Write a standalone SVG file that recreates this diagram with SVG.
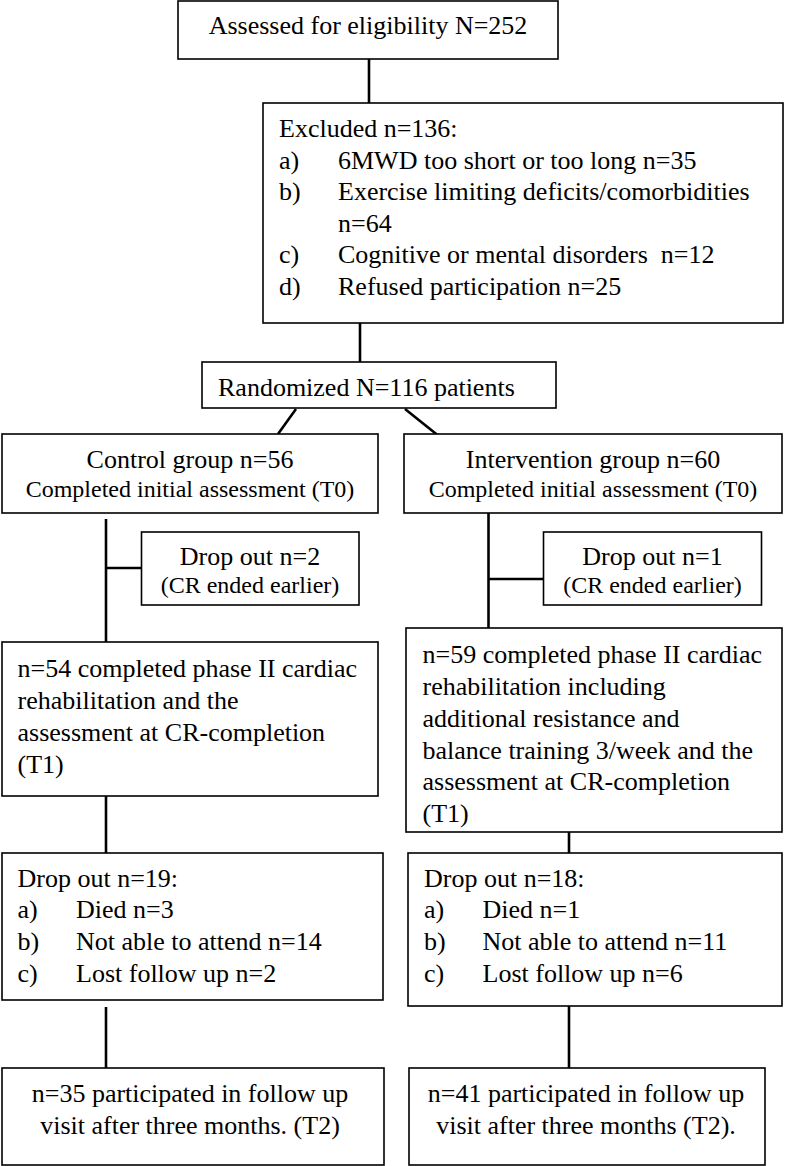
<svg xmlns="http://www.w3.org/2000/svg" width="788" height="1166" viewBox="0 0 788 1166">
<style>
.box{fill:#fff;stroke:#000;stroke-width:1.6}
.ln{stroke:#000;stroke-width:2.6;fill:none}
text{font-family:"Liberation Serif","Times New Roman",serif;font-size:26px;fill:#000}
.s{font-size:24px}
.m{text-anchor:middle}
</style>
<rect width="788" height="1166" fill="#fff"/>
<g id="connectors">
<line class="ln" x1="369" y1="59" x2="369" y2="103"/>
<line class="ln" x1="360" y1="323" x2="360" y2="362"/>
<line class="ln" x1="296" y1="409" x2="278" y2="434"/>
<line class="ln" x1="405" y1="409" x2="440" y2="437"/>
<line class="ln" x1="106" y1="519" x2="106" y2="642"/>
<line class="ln" x1="106" y1="568" x2="141.5" y2="568"/>
<line class="ln" x1="488.5" y1="512" x2="488.5" y2="628"/>
<line class="ln" x1="488.5" y1="579" x2="543.5" y2="579"/>
<line class="ln" x1="106" y1="796" x2="106" y2="853"/>
<line class="ln" x1="569" y1="832" x2="569" y2="853"/>
<line class="ln" x1="106" y1="1007" x2="106" y2="1068"/>
<line class="ln" x1="569" y1="1006" x2="569" y2="1068"/>
</g>
<g id="assessed">
<rect class="box" x="178" y="1" width="380" height="58"/>
<text class="m" x="368" y="34">Assessed for eligibility N=252</text>
</g>
<g id="excluded">
<rect class="box" x="263" y="103" width="520" height="220"/>
<text x="279" y="137">Excluded n=136:</text>
<text x="279" y="169">a)</text><text x="338" y="169">6MWD too short or too long n=35</text>
<text x="279" y="200">b)</text><text x="338" y="200">Exercise limiting deficits/comorbidities</text>
<text x="338" y="232">n=64</text>
<text x="279" y="263">c)</text><text x="338" y="263">Cognitive or mental disorders&#160; n=12</text>
<text x="279" y="295">d)</text><text x="338" y="295">Refused participation n=25</text>
</g>
<g id="randomized">
<rect class="box" x="202" y="362" width="354" height="46"/>
<text x="218" y="396">Randomized N=116 patients</text>
</g>
<g id="control">
<rect class="box" x="2" y="434" width="376" height="79"/>
<text class="m" x="190" y="468">Control group n=56</text>
<text class="m s" x="190" y="497">Completed initial assessment (T0)</text>
</g>
<g id="intervention">
<rect class="box" x="404" y="434" width="378" height="79"/>
<text class="m" x="593" y="468">Intervention group n=60</text>
<text class="m s" x="593" y="497">Completed initial assessment (T0)</text>
</g>
<g id="dropout-control-1">
<rect class="box" x="141.5" y="532" width="217.5" height="73"/>
<text class="m" x="250" y="565">Drop out n=2</text>
<text class="m s" x="250" y="593">(CR ended earlier)</text>
</g>
<g id="dropout-intervention-1">
<rect class="box" x="543.5" y="532" width="218" height="73"/>
<text class="m" x="652.5" y="565">Drop out n=1</text>
<text class="m s" x="652.5" y="593">(CR ended earlier)</text>
</g>
<g id="control-t1">
<rect class="box" x="2" y="642" width="376" height="154"/>
<text x="17.5" y="677">n=54 completed phase II cardiac</text>
<text x="17.5" y="709">rehabilitation and the</text>
<text x="17.5" y="741">assessment at CR-completion</text>
<text x="17.5" y="773">(T1)</text>
</g>
<g id="intervention-t1">
<rect class="box" x="406" y="628" width="376" height="204"/>
<text x="422.5" y="663">n=59 completed phase II cardiac</text>
<text x="422.5" y="695">rehabilitation including</text>
<text x="422.5" y="727">additional resistance and</text>
<text x="422.5" y="759">balance training 3/week and the</text>
<text x="422.5" y="790">assessment at CR-completion</text>
<text x="422.5" y="822">(T1)</text>
</g>
<g id="dropout-control-2">
<rect class="box" x="2" y="853" width="381" height="147"/>
<text x="17.5" y="887">Drop out n=19:</text>
<text x="17.5" y="918">a)</text><text x="76" y="918">Died n=3</text>
<text x="17.5" y="950">b)</text><text x="76" y="950">Not able to attend n=14</text>
<text x="17.5" y="982">c)</text><text x="76" y="982">Lost follow up n=2</text>
</g>
<g id="dropout-intervention-2">
<rect class="box" x="408" y="853" width="374" height="153"/>
<text x="424" y="887">Drop out n=18:</text>
<text x="424" y="918">a)</text><text x="482.5" y="918">Died n=1</text>
<text x="424" y="950">b)</text><text x="482.5" y="950">Not able to attend n=11</text>
<text x="424" y="982">c)</text><text x="482.5" y="982">Lost follow up n=6</text>
</g>
<g id="control-t2">
<rect class="box" x="2" y="1068" width="382" height="97"/>
<text class="m" x="190" y="1102">n=35 participated in follow up</text>
<text class="m" x="190" y="1134">visit after three months. (T2)</text>
</g>
<g id="intervention-t2">
<rect class="box" x="409" y="1068" width="356" height="97"/>
<text class="m" x="586" y="1102">n=41 participated in follow up</text>
<text class="m" x="586" y="1134">visit after three months (T2).</text>
</g>
</svg>
